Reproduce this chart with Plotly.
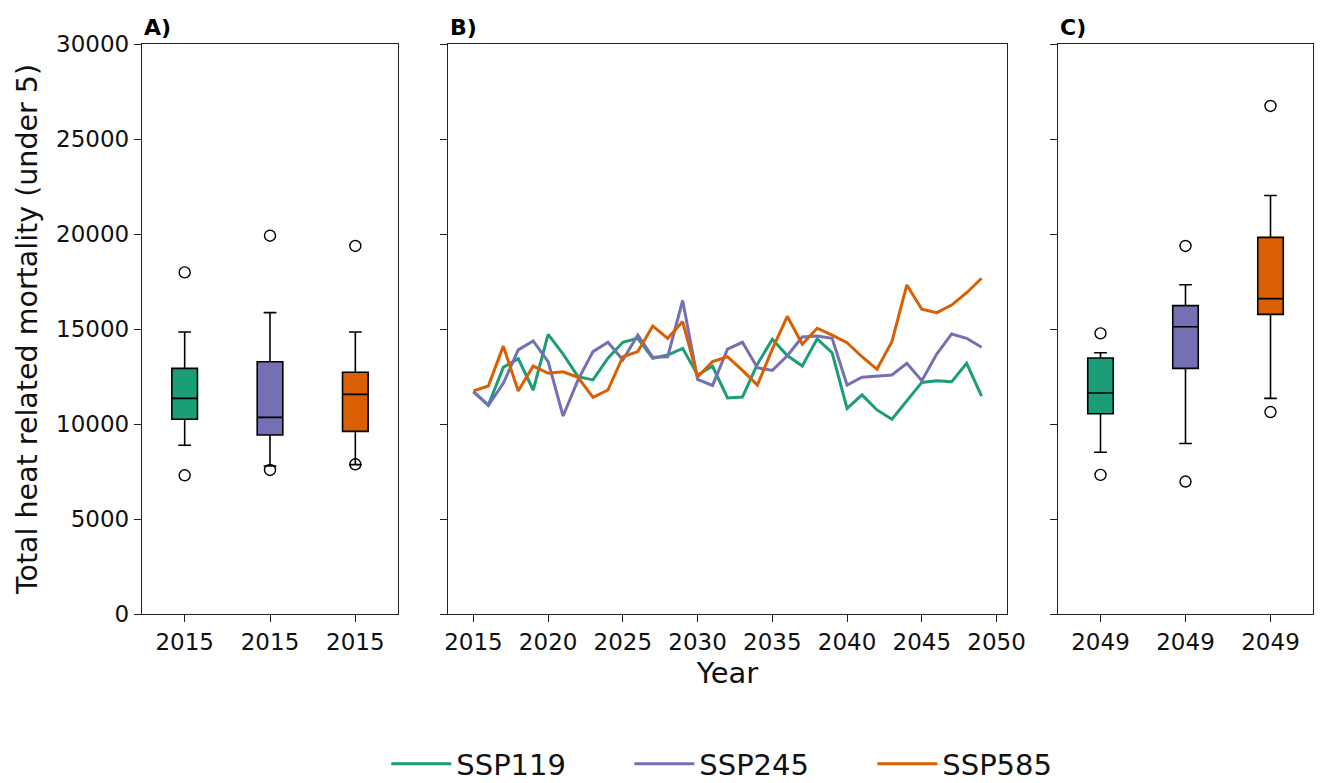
import plotly.graph_objects as go

scenarios = ["SSP119", "SSP245", "SSP585"]
colors = ["#1b9e77", "#7570b3", "#d95f02"]

years = list(range(2015, 2050))
ssp119 = [11700, 11000, 12980, 13440, 11790, 14720, 13680, 12490, 12320, 13460,
          14300, 14510, 13460, 13630, 13980, 12580, 13040, 11370, 11420, 13150,
          14460, 13600, 13050, 14480, 13750, 10820, 11530, 10740, 10250, 11230,
          12190, 12280, 12230, 13190, 11470]
ssp245 = [11700, 10970, 12140, 13900, 14370, 13280, 10420, 12320, 13810, 14300,
          13370, 14680, 13510, 13540, 16500, 12350, 12030, 13940, 14300, 12960,
          12820, 13590, 14580, 14630, 14510, 12050, 12460, 12530, 12580, 13190,
          12280, 13680, 14740, 14510, 14040]
ssp585 = [11740, 12000, 14100, 11740, 13050, 12670, 12750, 12460, 11400, 11790,
          13540, 13810, 15160, 14510, 15390, 12470, 13280, 13540, 12820, 12050,
          13940, 15670, 14200, 15040, 14680, 14280, 13540, 12880, 14330, 17320,
          16040, 15860, 16260, 16910, 17670]
series = [ssp119, ssp245, ssp585]

# Box statistics (panel A: 2015, panel C: 2049)
box_pos = [1, 2, 3]
a_q1 = [10250, 9420, 9610]
a_med = [11350, 10350, 11560]
a_q3 = [12930, 13280, 12720]
a_lo = [8880, 7790, 7860]
a_hi = [14840, 15860, 14840]
a_out = [[17980, 7300], [19910, 7580], [19370, 7880]]
a_labels = ["2015", "2015", "2015"]

c_q1 = [10540, 12930, 15770]
c_med = [11630, 15120, 16600]
c_q3 = [13470, 16230, 19820]
c_lo = [8510, 8970, 11350]
c_hi = [13750, 17330, 22030]
c_out = [[14770, 7320], [19370, 6970], [26740, 10630]]
c_labels = ["2049", "2049", "2049"]

yticks = [0, 5000, 10000, 15000, 20000, 25000, 30000]
year_ticks = [2015, 2020, 2025, 2030, 2035, 2040, 2045, 2050]

fig = go.Figure()

def add_boxes(xa, ya, q1, med, q3, lo, hi, outs):
    for i in range(3):
        fig.add_trace(go.Box(
            x=[box_pos[i]], q1=[q1[i]], median=[med[i]], q3=[q3[i]],
            lowerfence=[lo[i]], upperfence=[hi[i]],
            width=0.3, whiskerwidth=0.5,
            fillcolor=colors[i], line=dict(color="black", width=1.6),
            boxpoints=False, showlegend=False, hoverinfo="skip",
            xaxis=xa, yaxis=ya))
        fig.add_trace(go.Scatter(
            x=[box_pos[i]] * len(outs[i]), y=outs[i], mode="markers",
            marker=dict(symbol="circle-open", size=11, color="black",
                        line=dict(width=1.4, color="black")),
            showlegend=False, hoverinfo="skip", xaxis=xa, yaxis=ya))

add_boxes("x", "y", a_q1, a_med, a_q3, a_lo, a_hi, a_out)
add_boxes("x3", "y3", c_q1, c_med, c_q3, c_lo, c_hi, c_out)

for i in range(3):
    fig.add_trace(go.Scatter(
        x=years, y=series[i], mode="lines", name=scenarios[i],
        line=dict(color=colors[i], width=3),
        xaxis="x2", yaxis="y2"))

W, H = 1323, 783
ydom = [1 - 614 / H, 1 - 44 / H]
font = "DejaVu Sans, Arial, sans-serif"
tickfont = dict(family=font, size=23, color="#111")

axis_common = dict(showline=True, linecolor="#222", linewidth=1.3, mirror=True,
                   ticks="outside", ticklen=7, tickwidth=1.3, tickcolor="#222",
                   showgrid=False, zeroline=False, tickfont=tickfont,
                   automargin=False)

fig.update_layout(
    width=W, height=H,
    margin=dict(l=0, r=0, t=0, b=0, autoexpand=False),
    paper_bgcolor="white", plot_bgcolor="white",
    font=dict(family=font, color="#111"),
    xaxis=dict(domain=[142 / W, 398 / W], range=[0.5, 3.5], tickvals=box_pos,
               ticktext=a_labels, anchor="y", **axis_common),
    yaxis=dict(domain=ydom, range=[0, 30000], tickvals=yticks, anchor="x",
               tickformat="d",
               title=dict(text="Total heat related mortality (under 5)",
                          font=dict(family=font, size=28.5, color="#111"),
                          standoff=10),
               **axis_common),
    xaxis2=dict(domain=[448 / W, 1007 / W], range=[2013.3, 2050.7],
                tickvals=year_ticks, tickformat="d", anchor="y2",
                title=dict(text="Year", font=dict(family=font, size=29, color="#111"),
                           standoff=8),
                **axis_common),
    yaxis2=dict(domain=ydom, range=[0, 30000], tickvals=yticks, anchor="x2",
                showticklabels=False, **axis_common),
    xaxis3=dict(domain=[1058 / W, 1313 / W], range=[0.5, 3.5], tickvals=box_pos,
                ticktext=c_labels, anchor="y3", **axis_common),
    yaxis3=dict(domain=ydom, range=[0, 30000], tickvals=yticks, anchor="x3",
                showticklabels=False, **axis_common),
    legend=dict(orientation="h", x=0.292, xanchor="left", y=1 - 764 / H,
                yanchor="middle", font=dict(family=font, size=29, color="#111"),
                entrywidth=168, entrywidthmode="pixels", itemwidth=60,
                bgcolor="rgba(0,0,0,0)"),
)

for lab, xr in [("A)", "x domain"), ("B)", "x2 domain"), ("C)", "x3 domain")]:
    fig.add_annotation(text="<b>" + lab + "</b>", xref=xr, yref="paper",
                       x=0, y=ydom[1], xanchor="left", yanchor="bottom",
                       yshift=2, showarrow=False,
                       font=dict(family=font, size=22, color="black"))

fig.write_html("out.html")
